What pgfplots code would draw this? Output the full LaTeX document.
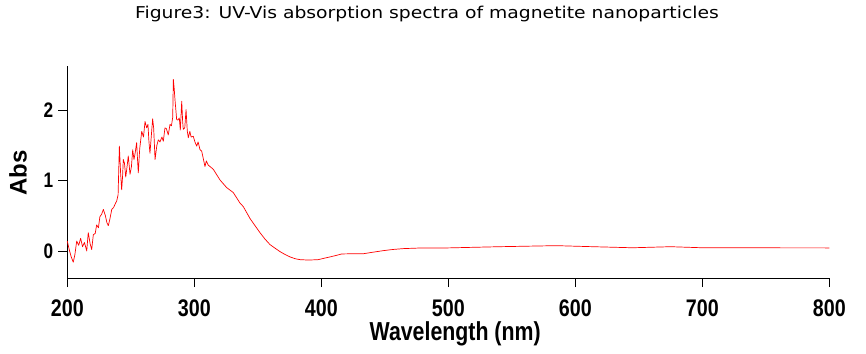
\documentclass[border=0pt]{standalone}
\usepackage{fontspec}
\usepackage{pgfplots}
\pgfplotsset{compat=1.18}
\setmainfont{Liberation Sans}
\newfontfamily\narrowfont{Liberation Sans}[FakeStretch=0.82]
\newfontfamily\titlefont{DejaVu Sans}[FakeStretch=1.15]
\begin{document}
\begin{tikzpicture}[x=1pt,y=1pt]
\path[use as bounding box] (0,0) rectangle (866,353);
\node[font=\titlefont\fontsize{16.3}{16.3}\selectfont, anchor=base] at (427,334.7) {Figure3: UV-Vis absorption spectra of magnetite nanoparticles};
\begin{axis}[
  at={(67.3pt,75pt)}, anchor=south west,
  scale only axis, width=762pt, height=212pt,
  xmin=200, xmax=800, ymin=-0.385, ymax=2.63,
  axis x line*=bottom, axis y line*=left,
  axis line style={black, line width=0.8pt},
  xtick={200,300,...,800}, ytick={0,1,2},
  tick align=outside, major tick length=9pt,
  tick style={black, line width=0.6pt},
  /pgf/number format/assume math mode=true,
  xticklabel style={font=\narrowfont\bfseries\fontsize{24}{24}\selectfont, anchor=base, inner sep=0pt, yshift=-29pt},
  yticklabel style={font=\narrowfont\bfseries\fontsize{21}{21}\selectfont, anchor=east, inner sep=0pt, xshift=-5pt},
  xlabel={Wavelength (nm)},
  ylabel={Abs},
  xlabel style={font=\narrowfont\bfseries\fontsize{26}{26}\selectfont, at={(axis description cs:0.509,-0.2925)}, anchor=base, inner sep=0pt},
  ylabel style={font=\bfseries\fontsize{24}{24}\selectfont, at={(axis description cs:-0.0647,0.495)}, anchor=center, inner sep=0pt},
  clip=false,
]
\addplot[red, line width=0.7pt, line join=round] coordinates {
(200,0.14) (201.5,0.02) (203,-0.08) (204.7,-0.16) (206,-0.05) (207.4,0.14) (209,0.08) (210.5,0.18) (212,0.06) (213.5,0.12)
(215.3,0.00) (216.5,0.26) (218,0.10) (219.2,0.02) (220.5,0.23) (222,0.25) (223.1,0.37) (224.5,0.33) (225.7,0.49) (227,0.52)
(228.4,0.59) (230,0.50) (231.2,0.40) (232.3,0.36) (233.5,0.45) (235,0.59) (236.5,0.62) (238,0.68) (238.9,0.71) (240,0.80)
(241,1.49) (242,1.10) (242.8,0.87) (243.5,1.05) (244.1,1.30) (245,1.25) (246,1.05) (246.8,1.16) (248,1.35) (249.4,1.09)
(250.5,1.20) (251.5,1.44) (252.5,1.30) (253.5,1.40) (254.6,1.54) (255.3,1.30) (255.9,1.11) (257,1.45) (258.6,1.70) (260,1.62)
(261.2,1.84) (262.5,1.75) (263.5,1.80) (264.3,1.55) (265.1,1.39) (266,1.60) (267.2,1.88) (268,1.75) (269.1,1.30) (270.5,1.50)
(271.7,1.58) (273,1.55) (274.5,1.62) (275.6,1.56) (276.9,1.75) (278,1.74) (279.5,1.65) (280.9,1.80) (282,1.78) (283,1.90)
(283.5,2.44) (284.2,2.30) (284.8,2.15) (285.5,2.00) (286.1,1.87) (287,1.86) (288.2,1.89) (289,1.72) (290.1,2.13) (290.8,1.85)
(291.3,1.73) (292.5,1.75) (293.5,2.01) (294.5,1.70) (295.3,1.61) (296.5,1.70) (297.5,1.62) (299.2,1.63) (300.5,1.55) (301.9,1.49)
(303,1.55) (304.5,1.44) (305.8,1.42) (307,1.32) (308.4,1.20) (309.5,1.28) (311,1.22) (312.4,1.20) (315,1.16) (320.2,1.01)
(325.5,0.90) (330.7,0.83) (336,0.68) (338.6,0.63) (343.9,0.46) (347.8,0.36) (351.7,0.26) (355.6,0.17) (359.6,0.09) (363.5,0.04)
(367.5,-0.01) (371.4,-0.05) (375.4,-0.085) (379.3,-0.11) (383.2,-0.124) (390,-0.13) (397.6,-0.124) (402,-0.105) (406.9,-0.085) (411.5,-0.065)
(416.1,-0.043) (425,-0.04) (433.1,-0.04) (440,-0.02) (448.8,0.004) (456,0.02) (464.6,0.033) (480,0.043) (500,0.043) (540,0.06)
(585,0.075) (610,0.062) (645,0.045) (675,0.06) (700,0.045) (800,0.043)
};
\end{axis}
\end{tikzpicture}
\end{document}
